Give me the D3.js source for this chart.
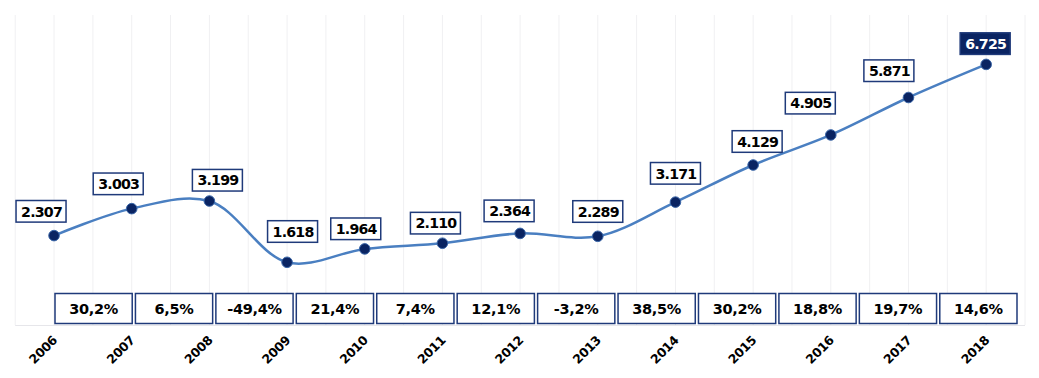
<!DOCTYPE html>
<html>
<head>
<meta charset="utf-8">
<script src="https://cdn.jsdelivr.net/npm/d3@7"></script>
<style>
  html, body { margin: 0; padding: 0; background: #ffffff; }
  svg { display: block; }
  text { font-family: "DejaVu Sans", Verdana, sans-serif; font-weight: bold; }
</style>
</head>
<body>
<svg id="chart" width="1039" height="378"></svg>
<script>
// ---- data ----
const years = ["2006","2007","2008","2009","2010","2011","2012","2013","2014","2015","2016","2017","2018"];
const values = [2307, 3003, 3199, 1618, 1964, 2110, 2364, 2289, 3171, 4129, 4905, 5871, 6725];
const valueLabels = ["2.307","3.003","3.199","1.618","1.964","2.110","2.364","2.289","3.171","4.129","4.905","5.871","6.725"];
const growthLabels = ["30,2%","6,5%","-49,4%","21,4%","7,4%","12,1%","-3,2%","38,5%","30,2%","18,8%","19,7%","14,6%"];

// ---- layout (label placement relative to each point) ----
const labelDx = [-13, -13.5, 8, 5.5, -9, -7, -11, 0, 0, 4, -20.5, -19.6, -1];
const labelGap = [13.5, 14, 10, 20, 9.3, 9.3, 11.7, 14, 18, 12.7, 21, 16, 10];

const svg = d3.select("#chart");
const plotL = 15.2, plotR = 1025, plotT = 15, plotB = 325;

const x = d3.scaleBand().domain(years).range([plotL, plotR]).padding(0);
const cx = d => x(d) + x.bandwidth() / 2;
const y = d3.scaleLinear().domain([0, 8000]).range([plotB, plotT]);

// vertical grid lines at band edges and centers
const gridXs = [];
years.forEach(yr => { gridXs.push(x(yr)); gridXs.push(cx(yr)); });
gridXs.push(plotR);
svg.append("g").selectAll("line").data(gridXs).join("line")
  .attr("x1", d => d).attr("x2", d => d)
  .attr("y1", plotT).attr("y2", plotB)
  .attr("stroke", "#f0f0f2").attr("stroke-width", 1);

// bottom axis line
svg.append("line").attr("x1", plotL).attr("x2", plotR)
  .attr("y1", plotB + 0.5).attr("y2", plotB + 0.5)
  .attr("stroke", "#e6e6ea").attr("stroke-width", 1);

// x axis labels
const xAxis = d3.axisBottom(x).tickSize(0).tickPadding(0);
const gx = svg.append("g").attr("transform", `translate(0,${plotB})`).call(xAxis);
gx.select(".domain").remove();
gx.selectAll(".tick text")
  .attr("font-size", 12.5)
  .attr("font-family", "DejaVu Sans")
  .attr("font-weight", "bold")
  .attr("letter-spacing", -0.3)
  .attr("fill", "#000")
  .attr("text-anchor", "end")
  .attr("dy", 0)
  .attr("transform", "translate(4,16) rotate(-45)");

// growth boxes row
const g = d3.scaleBand().domain(growthLabels.map((d, i) => i)).range([55, 1017]).paddingInner(0.04).paddingOuter(0);
const gRow = svg.append("g");
const gCells = gRow.selectAll("g").data(growthLabels).join("g")
  .attr("transform", (d, i) => `translate(${g(i)},293.5)`);
gCells.append("rect")
  .attr("width", g.bandwidth()).attr("height", 30)
  .attr("fill", "#fff").attr("stroke", "#1f3a7a").attr("stroke-width", 1.5);
gCells.append("text")
  .attr("x", g.bandwidth() / 2).attr("y", 20.5)
  .attr("text-anchor", "middle")
  .attr("font-size", 14.5)
  .attr("letter-spacing", -0.3)
  .attr("fill", "#000")
  .text(d => d);

// line
const pts = years.map((yr, i) => [cx(yr), y(values[i])]);
const line = d3.line().curve(d3.curveCatmullRom.alpha(0.5));
svg.append("path").attr("d", line(pts))
  .attr("fill", "none").attr("stroke", "#4a7fc1").attr("stroke-width", 2.5);

// markers
svg.append("g").selectAll("circle").data(pts).join("circle")
  .attr("cx", d => d[0]).attr("cy", d => d[1]).attr("r", 5.3)
  .attr("fill", "#0a2462").attr("stroke", "#3a66a8").attr("stroke-width", 1);

// value labels
const bw = 50, bh = 21.6;
const labels = svg.append("g").selectAll("g").data(valueLabels).join("g")
  .attr("transform", (d, i) => `translate(${pts[i][0] + labelDx[i] - bw / 2},${pts[i][1] - labelGap[i] - bh})`);
labels.append("rect")
  .attr("width", bw).attr("height", bh)
  .attr("fill", (d, i) => i === valueLabels.length - 1 ? "#0a2462" : "#fff")
  .attr("stroke", "#1f3a7a").attr("stroke-width", 1.5);
labels.append("text")
  .attr("x", bw / 2 + 0.5).attr("y", 16)
  .attr("text-anchor", "middle")
  .attr("font-size", 14.2)
  .attr("letter-spacing", -0.8)
  .attr("fill", (d, i) => i === valueLabels.length - 1 ? "#fff" : "#000")
  .text(d => d);
</script>
</body>
</html>
